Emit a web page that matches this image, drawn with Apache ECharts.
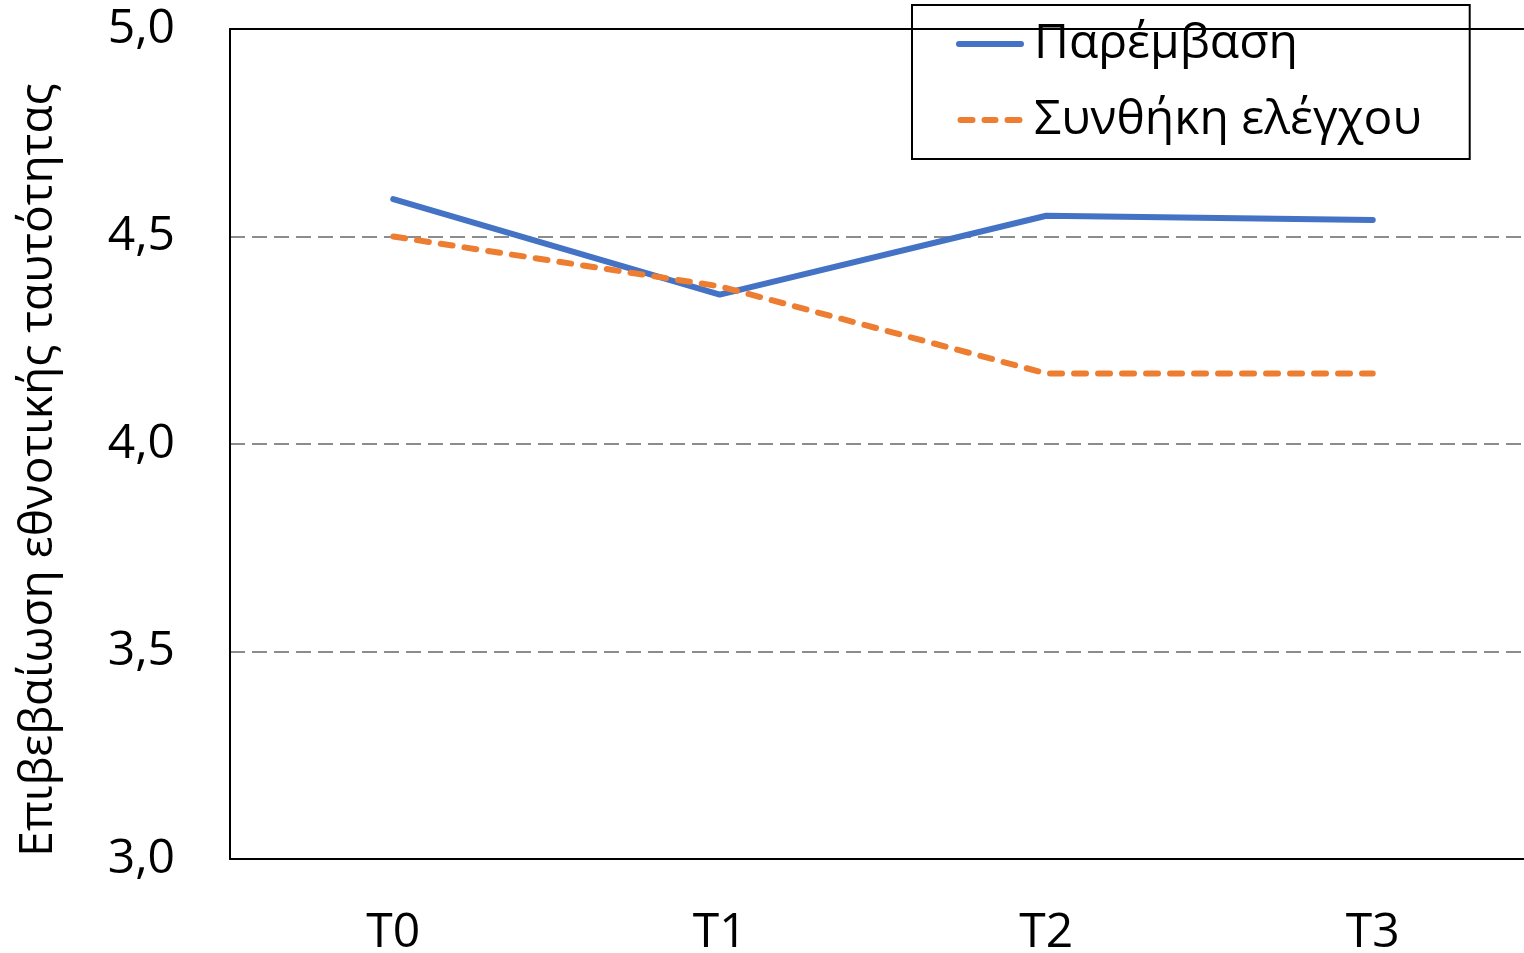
<!DOCTYPE html>
<html>
<head>
<meta charset="utf-8">
<script src="https://cdn.jsdelivr.net/npm/echarts@6/dist/echarts.min.js"></script>
<style>
html,body{margin:0;padding:0;background:#fff;}
#c{width:1524px;height:953px;}
</style>
</head>
<body>
<div id="c"></div>
<script>
const categories = ['T0', 'T1', 'T2', 'T3'];
const seriesNames = ['Παρέμβαση', 'Συνθήκη ελέγχου'];
const intervention = [4.59, 4.36, 4.55, 4.54];
const control = [4.50, 4.38, 4.17, 4.17];
const yAxisName = 'Επιβεβαίωση εθνοτικής ταυτότητας';

const FONT = '"Open Sans", "Noto Sans", sans-serif';
const solidIcon = 'path://M3,0h62a3,3 0 0 1 0,6h-62a3,3 0 0 1 0,-6z';
const dashIcon = 'path://M3,0h12a3,3 0 0 1 0,6h-12a3,3 0 0 1 0,-6z' +
  'M27,0h11a3,3 0 0 1 0,6h-11a3,3 0 0 1 0,-6z' +
  'M50,0h12a3,3 0 0 1 0,6h-12a3,3 0 0 1 0,-6z';

const chart = echarts.init(document.getElementById('c'), null, {renderer: 'canvas'});
chart.setOption({
  animation: false,
  backgroundColor: '#fff',
  grid: {left: 230, top: 29, width: 1306, height: 830, show: false, outerBoundsMode: 'none', containLabel: false},
  legend: {
    orient: 'vertical',
    left: 912, top: 5,
    padding: [11, 48, 11, 44],
    itemGap: 20,
    itemWidth: 68,
    itemHeight: 6,
    borderColor: '#000',
    borderWidth: 2,
    backgroundColor: '#fff',
    textStyle: {fontFamily: FONT, fontSize: 48, lineHeight: 56, color: '#000', padding: [0, 0, 0, 5]},
    data: [
      {name: seriesNames[0], icon: solidIcon},
      {name: seriesNames[1], icon: dashIcon}
    ]
  },
  xAxis: [{
    type: 'category',
    data: categories,
    position: 'bottom',
    z: 5,
    axisLine: {show: true, lineStyle: {color: '#000', width: 2}},
    axisTick: {show: false},
    axisLabel: {fontFamily: FONT, fontSize: 48, color: '#000', margin: 50}
  }, {
    type: 'category',
    data: categories,
    position: 'top',
    z: 5,
    axisLine: {show: true, lineStyle: {color: '#000', width: 2}},
    axisTick: {show: false},
    axisLabel: {show: false}
  }],
  yAxis: {
    type: 'value',
    min: 3, max: 5, interval: 0.5,
    z: 1,
    name: yAxisName,
    nameLocation: 'middle',
    nameRotate: 90,
    nameGap: 168,
    nameTextStyle: {fontFamily: FONT, fontSize: 46, color: '#000', padding: [0, 52, 0, 0]},
    axisLine: {show: true, lineStyle: {color: '#000', width: 2}},
    axisTick: {show: false},
    axisLabel: {fontFamily: FONT, fontSize: 48, color: '#000', margin: 55,
      formatter: v => v.toFixed(1).replace('.', ',')},
    splitLine: {show: true, lineStyle: {color: '#8c8c8c', width: 2, type: [15, 7]}}
  },
  series: [{
    name: seriesNames[0],
    type: 'line',
    data: intervention,
    symbol: 'none',
    color: '#4472C4',
    lineStyle: {width: 6, color: '#4472C4', cap: 'round', join: 'round'},
    z: 3
  }, {
    name: seriesNames[1],
    type: 'line',
    data: control,
    symbol: 'none',
    color: '#ED7D31',
    lineStyle: {width: 6, color: '#ED7D31', type: [12, 12], cap: 'round', join: 'round'},
    z: 4
  }]
});
</script>
</body>
</html>
